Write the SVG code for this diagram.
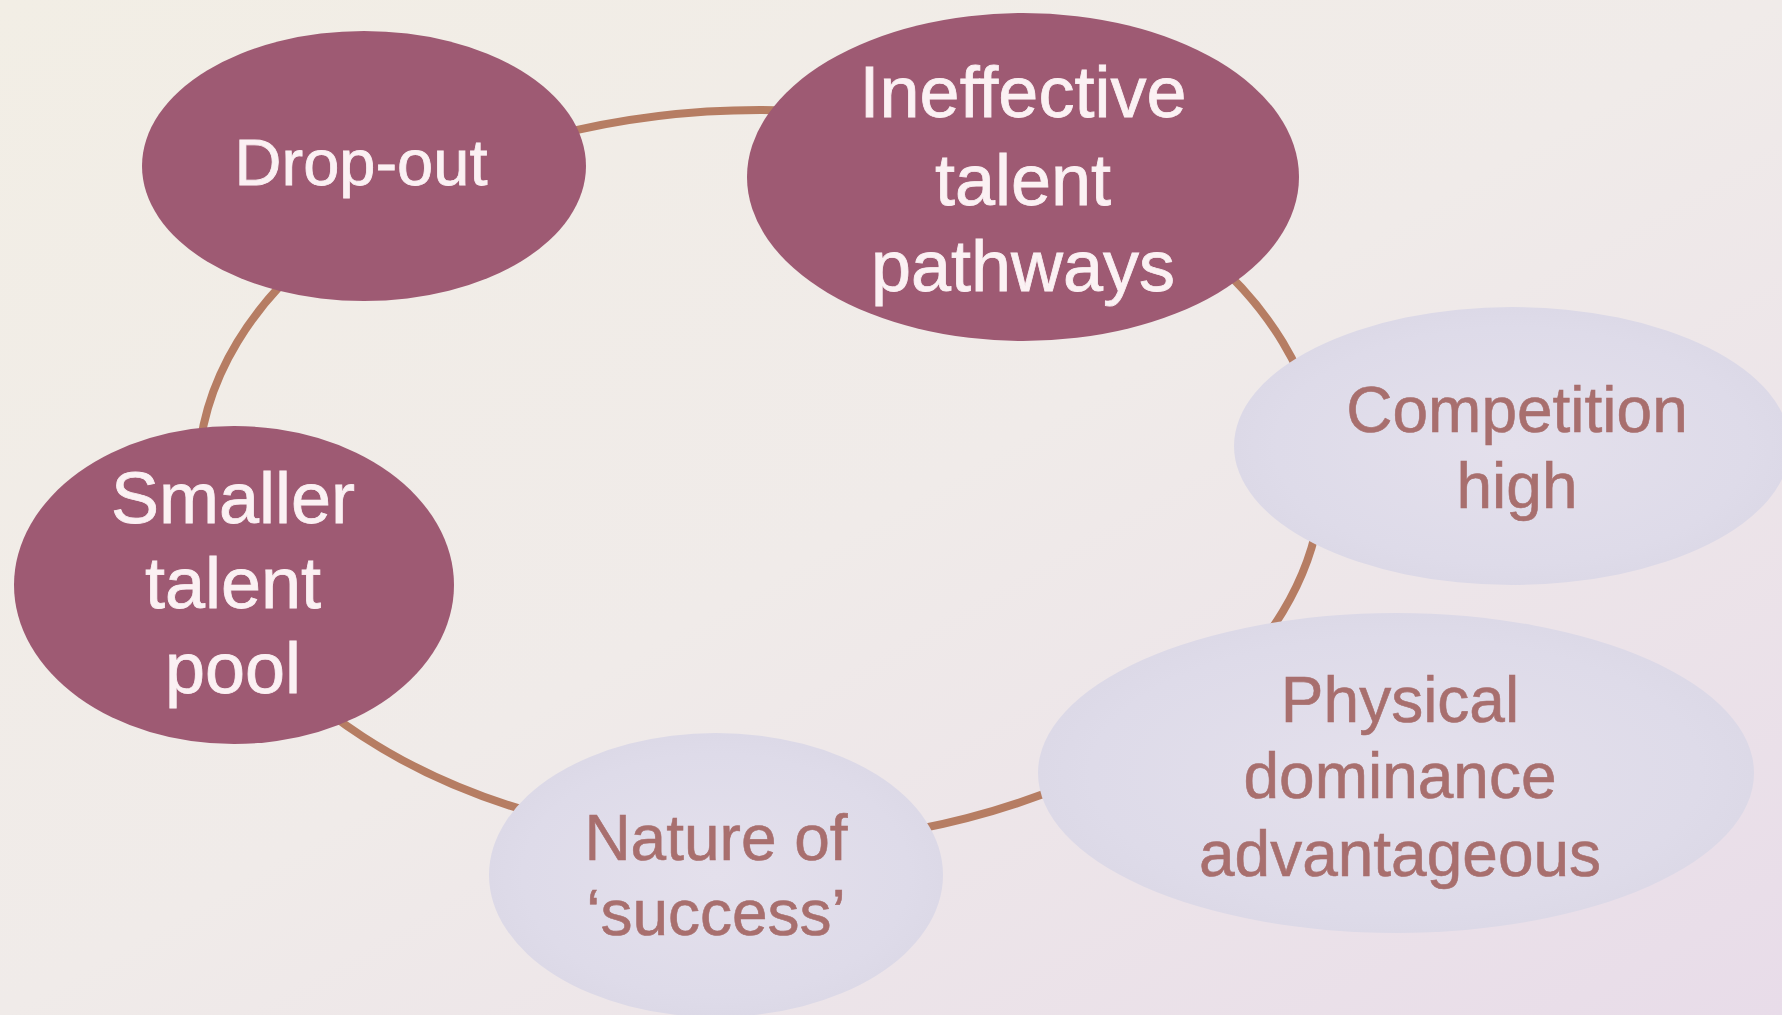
<svg xmlns="http://www.w3.org/2000/svg" width="1782" height="1015" viewBox="0 0 1782 1015">
<defs>
<linearGradient id="bg" x1="0" y1="0" x2="1" y2="1">
<stop offset="0" stop-color="#f2eee5"/>
<stop offset="0.5" stop-color="#f0ebe9"/>
<stop offset="1" stop-color="#e8dce9"/>
</linearGradient>
<radialGradient id="light" cx="0.5" cy="0.5" r="0.5">
<stop offset="0" stop-color="#e4e0ec"/>
<stop offset="0.85" stop-color="#dedbe9"/>
<stop offset="1" stop-color="#dcd9e7"/>
</radialGradient>
<style>
.dark{fill:#9e5a73}
.light{fill:url(#light)}
.dt{font-family:"Liberation Sans",Arial,sans-serif;font-size:72px;fill:#fbf1f3;stroke:#fbf1f3;stroke-width:0.8;text-anchor:middle}
.lt{font-family:"Liberation Sans",Arial,sans-serif;font-size:64px;fill:#a86f6e;stroke:#a86f6e;stroke-width:0.6;text-anchor:middle}
.ring{fill:none;stroke:#b67d63;stroke-width:8}
</style>
</defs>
<rect width="1782" height="1015" fill="url(#bg)"/>
<g id="connectors">
<ellipse class="ring" cx="760" cy="477" rx="562" ry="367"/>
</g>
<g id="node-dropout">
<ellipse class="dark" cx="364" cy="166" rx="222" ry="135"/>
<text class="dt" x="361" y="185" style="font-size:65px">Drop-out</text>
</g>
<g id="node-ineffective">
<ellipse class="dark" cx="1023" cy="177" rx="276" ry="164"/>
<text class="dt" x="1023" y="117">Ineffective</text>
<text class="dt" x="1023" y="205">talent</text>
<text class="dt" x="1023" y="291">pathways</text>
</g>
<g id="node-competition">
<ellipse class="light" cx="1512" cy="446" rx="278" ry="139"/>
<text class="lt" x="1517" y="432">Competition</text>
<text class="lt" x="1517" y="508">high</text>
</g>
<g id="node-physical">
<ellipse class="light" cx="1396" cy="773" rx="358" ry="160"/>
<text class="lt" x="1400" y="722">Physical</text>
<text class="lt" x="1400" y="798">dominance</text>
<text class="lt" x="1400" y="876">advantageous</text>
</g>
<g id="node-nature">
<ellipse class="light" cx="716" cy="875" rx="227" ry="142"/>
<text class="lt" x="716" y="860">Nature of</text>
<text class="lt" x="716" y="935">‘success’</text>
</g>
<g id="node-smaller">
<ellipse class="dark" cx="234" cy="585" rx="220" ry="159"/>
<text class="dt" x="233" y="523">Smaller</text>
<text class="dt" x="233" y="608">talent</text>
<text class="dt" x="233" y="693">pool</text>
</g>
</svg>
